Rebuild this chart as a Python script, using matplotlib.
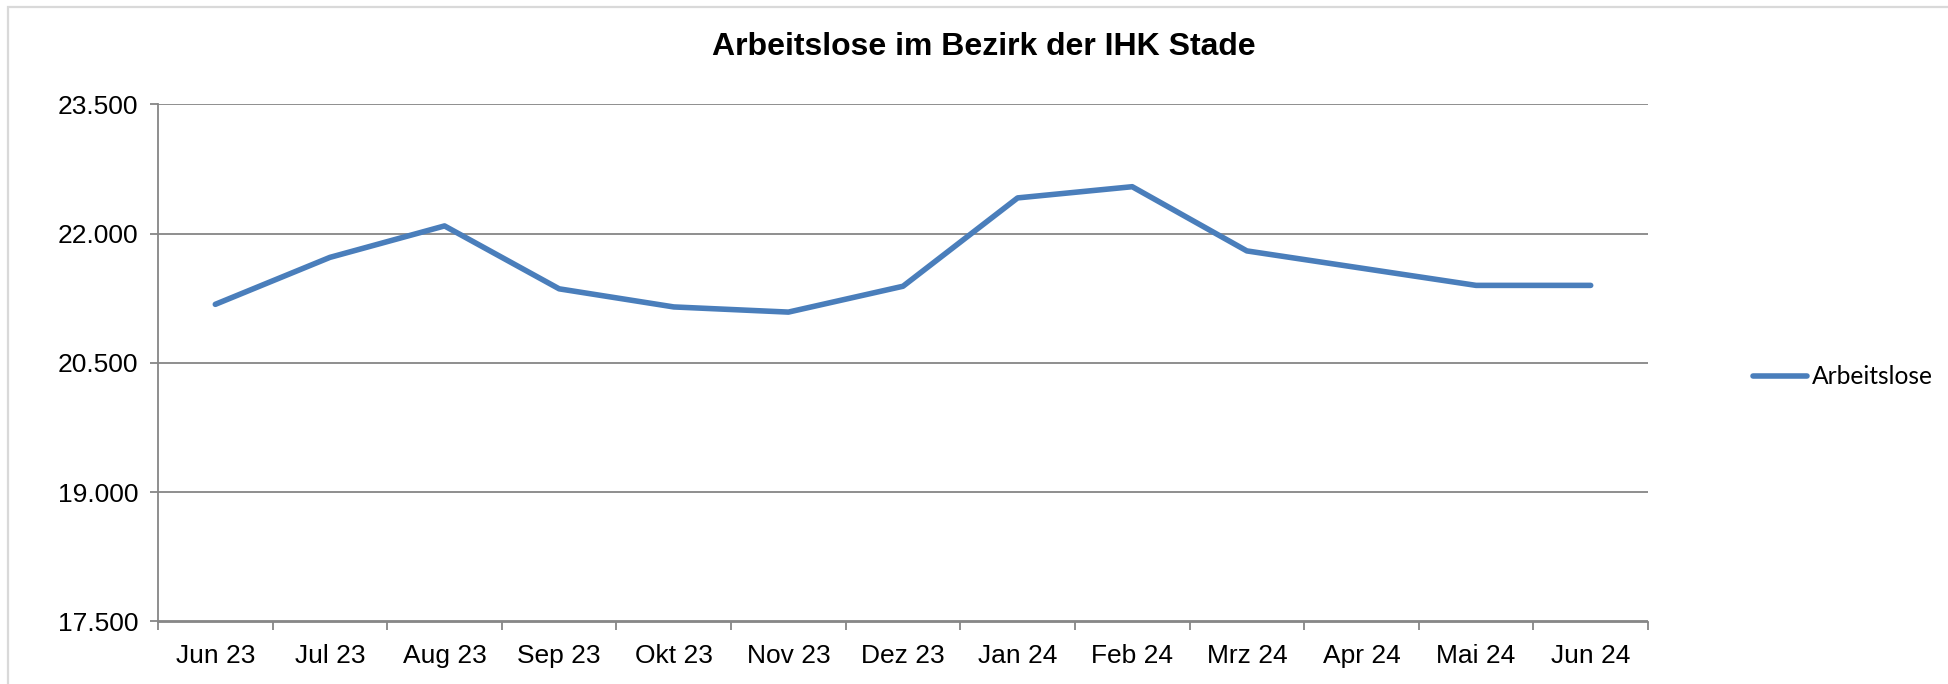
import matplotlib
matplotlib.use("Agg")
import matplotlib.pyplot as plt
from matplotlib.patches import Rectangle
from matplotlib.ticker import FixedLocator, FuncFormatter

months = ["Jun 23", "Jul 23", "Aug 23", "Sep 23", "Okt 23", "Nov 23", "Dez 23",
          "Jan 24", "Feb 24", "Mrz 24", "Apr 24", "Mai 24", "Jun 24"]
arbeitslose = [21180, 21725, 22090, 21360, 21150, 21090, 21390,
               22415, 22545, 21800, 21600, 21400, 21400]
y_ticks = [17500, 19000, 20500, 22000, 23500]
title = "Arbeitslose im Bezirk der IHK Stade"
series_name = "Arbeitslose"

W, H = 1949, 684
fig = plt.figure(figsize=(W / 100, H / 100), dpi=100)
fig.patch.set_facecolor("white")

# outer light border (open at right and bottom edges, as in the reference crop)
fig.add_artist(Rectangle((8.5 / W, -0.05), 1.1, 1.05 - 6.5 / H, transform=fig.transFigure,
                         fill=False, edgecolor="#d9d9d9", linewidth=1.6))

left, right = 158 / W, 1648 / W
top, bottom = 1 - 104.4 / H, 1 - 621.5 / H
ax = fig.add_axes([left, bottom, right - left, top - bottom])

gray = "#868686"
blue = "#4a7ebb"
x = list(range(len(months)))
ax.plot(x, arbeitslose, color=blue, linewidth=4.0, solid_capstyle="round",
        solid_joinstyle="round", label=series_name, zorder=3)

ax.set_xlim(-0.5, len(months) - 0.5)
ax.set_ylim(y_ticks[0], y_ticks[-1])

ax.yaxis.set_major_locator(FixedLocator(y_ticks))
ax.yaxis.set_major_formatter(FuncFormatter(lambda v, p: f"{int(v):,}".replace(",", ".")))
ax.grid(axis="y", color=gray, linewidth=1.3, zorder=1)
ax.set_axisbelow(True)

ax.xaxis.set_major_locator(FixedLocator([i - 0.5 for i in range(len(months) + 1)]))
ax.xaxis.set_major_formatter(FuncFormatter(lambda v, p: ""))
ax.xaxis.set_minor_locator(FixedLocator(x))
ax.set_xticklabels(months, minor=True)

for s in ["top", "right"]:
    ax.spines[s].set_visible(False)
for s in ["left", "bottom"]:
    ax.spines[s].set_color(gray)
    ax.spines[s].set_linewidth(1.3)

font = "Liberation Sans"
ax.tick_params(axis="x", which="major", direction="out", length=6, width=1.3, color=gray)
ax.tick_params(axis="x", which="minor", length=0, pad=16, labelsize=19,
               labelfontfamily=font)
ax.tick_params(axis="y", which="major", direction="out", length=6, width=1.3, color=gray,
               pad=8, labelsize=19, labelfontfamily=font)

fig.text(((573 + 1010) / 2 / 1568), 1 - 47 / H, title,
         ha="center", va="center", fontsize=23, fontweight="bold", family=font)

fig.legend(loc="center left", bbox_to_anchor=(1753 / W, 1 - 377 / H), frameon=False,
           borderpad=0, borderaxespad=0, handlelength=2.2, handletextpad=0.2,
           prop={"family": "Lato", "size": 17.7})

fig.savefig("out.png", dpi=100, facecolor="white")
